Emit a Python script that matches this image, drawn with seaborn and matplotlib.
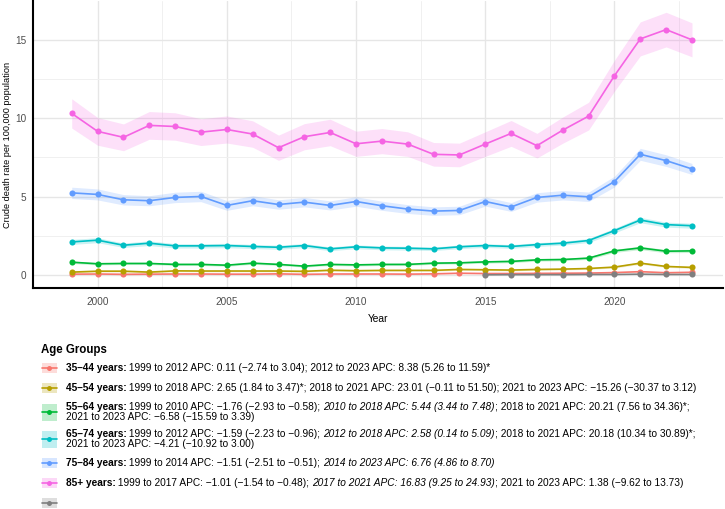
import numpy as np
import pandas as pd
import matplotlib
matplotlib.use("Agg")
import matplotlib.pyplot as plt
import seaborn as sns
from matplotlib.patches import Rectangle
from matplotlib.lines import Line2D

# ---------------- data ----------------
years = list(range(1999, 2024))
groups = ["35–44 years", "45–54 years", "55–64 years", "65–74 years",
          "75–84 years", "85+ years", "NA"]
colors = ["#F8766D", "#B79F00", "#00BA38", "#00BFC4", "#619CFF", "#F564E3", "#7F7F7F"]

rate_35_44 = [0.08, 0.09, 0.07, 0.08, 0.09, 0.09, 0.08, 0.08, 0.10, 0.07, 0.09, 0.09, 0.09,
              0.08, 0.10, 0.14, 0.12, 0.12, 0.13, 0.14, 0.15, 0.18, 0.24, 0.17, 0.20]
rate_45_54 = [0.21, 0.27, 0.27, 0.21, 0.29, 0.28, 0.28, 0.28, 0.28, 0.26, 0.33, 0.30, 0.32,
              0.32, 0.32, 0.38, 0.36, 0.34, 0.38, 0.40, 0.44, 0.53, 0.78, 0.57, 0.51]
rate_55_64 = [0.84, 0.74, 0.76, 0.76, 0.70, 0.70, 0.65, 0.78, 0.70, 0.59, 0.70, 0.67, 0.70,
              0.70, 0.78, 0.80, 0.86, 0.89, 0.99, 1.01, 1.10, 1.56, 1.75, 1.54, 1.56]
rate_65_74 = [2.13, 2.24, 1.92, 2.05, 1.88, 1.88, 1.90, 1.84, 1.79, 1.90, 1.69, 1.82, 1.75,
              1.73, 1.69, 1.82, 1.90, 1.84, 1.96, 2.05, 2.22, 2.85, 3.52, 3.23, 3.16]
rate_75_84 = [5.25, 5.15, 4.81, 4.75, 4.96, 5.02, 4.45, 4.75, 4.51, 4.66, 4.45, 4.70, 4.43,
              4.22, 4.09, 4.13, 4.70, 4.35, 4.96, 5.10, 5.00, 5.97, 7.70, 7.30, 6.77]
rate_85p = [10.30, 9.16, 8.78, 9.54, 9.47, 9.11, 9.28, 8.99, 8.12, 8.82, 9.09, 8.37, 8.54,
            8.35, 7.70, 7.66, 8.35, 9.03, 8.25, 9.24, 10.13, 12.70, 15.04, 15.63, 14.98]
years_na = list(range(2015, 2024))
rate_na = [0.04, 0.05, 0.05, 0.05, 0.06, 0.06, 0.08, 0.06, 0.06]

# half-width of 95% CI bands
ci_35_44 = [0.03] * 25
ci_45_54 = [0.05, 0.05, 0.05, 0.05, 0.05, 0.05, 0.05, 0.05, 0.05, 0.05, 0.05, 0.05, 0.05,
            0.05, 0.05, 0.05, 0.05, 0.05, 0.05, 0.05, 0.05, 0.06, 0.07, 0.06, 0.06]
ci_55_64 = [0.08, 0.07, 0.07, 0.07, 0.07, 0.07, 0.07, 0.07, 0.07, 0.06, 0.07, 0.07, 0.07,
            0.07, 0.07, 0.07, 0.08, 0.08, 0.08, 0.08, 0.08, 0.10, 0.11, 0.10, 0.10]
ci_65_74 = [0.16, 0.16, 0.14, 0.15, 0.14, 0.14, 0.14, 0.13, 0.13, 0.13, 0.12, 0.12, 0.12,
            0.12, 0.11, 0.12, 0.12, 0.12, 0.12, 0.12, 0.13, 0.15, 0.17, 0.16, 0.16]
ci_75_84 = [0.36, 0.35, 0.33, 0.32, 0.33, 0.33, 0.31, 0.32, 0.30, 0.30, 0.29, 0.30, 0.29,
            0.28, 0.27, 0.27, 0.29, 0.28, 0.30, 0.30, 0.30, 0.34, 0.38, 0.37, 0.35]
ci_85p = [0.93, 0.88, 0.85, 0.88, 0.87, 0.85, 0.86, 0.84, 0.80, 0.83, 0.84, 0.80, 0.80,
          0.78, 0.75, 0.75, 0.78, 0.82, 0.78, 0.83, 0.88, 0.98, 1.08, 1.10, 1.08]
ci_na = [0.01] * 9

x_ticks = [2000, 2005, 2010, 2015, 2020]
y_ticks = [0, 5, 10, 15]

rates = [rate_35_44, rate_45_54, rate_55_64, rate_65_74, rate_75_84, rate_85p, rate_na]
cis = [ci_35_44, ci_45_54, ci_55_64, ci_65_74, ci_75_84, ci_85p, ci_na]
yrs = [years] * 6 + [years_na]

rows = []
for g, yy, rr, cc in zip(groups, yrs, rates, cis):
    for y_, r_, c_ in zip(yy, rr, cc):
        rows.append({"Year": y_, "Rate": r_, "lo": r_ - c_, "hi": r_ + c_, "Group": g})
df = pd.DataFrame(rows)

# legend text segments: (text, weight, style)
legend_rows = [
    [[("35–44 years:", "bold", "normal"),
      (" 1999 to 2012 APC: 0.11 (−2.74 to 3.04); 2012 to 2023 APC: 8.38 (5.26 to 11.59)*", "normal", "normal")]],
    [[("45–54 years:", "bold", "normal"),
      (" 1999 to 2018 APC: 2.65 (1.84 to 3.47)*; 2018 to 2021 APC: 23.01 (−0.11 to 51.50); 2021 to 2023 APC: −15.26 (−30.37 to 3.12)", "normal", "normal")]],
    [[("55–64 years:", "bold", "normal"),
      (" 1999 to 2010 APC: −1.76 (−2.93 to −0.58); ", "normal", "normal"),
      ("2010 to 2018 APC: 5.44 (3.44 to 7.48)", "normal", "italic"),
      ("; 2018 to 2021 APC: 20.21 (7.56 to 34.36)*;", "normal", "normal")],
     [("2021 to 2023 APC: −6.58 (−15.59 to 3.39)", "normal", "normal")]],
    [[("65–74 years:", "bold", "normal"),
      (" 1999 to 2012 APC: −1.59 (−2.23 to −0.96); ", "normal", "normal"),
      ("2012 to 2018 APC: 2.58 (0.14 to 5.09)", "normal", "italic"),
      ("; 2018 to 2021 APC: 20.18 (10.34 to 30.89)*;", "normal", "normal")],
     [("2021 to 2023 APC: −4.21 (−10.92 to 3.00)", "normal", "normal")]],
    [[("75–84 years:", "bold", "normal"),
      (" 1999 to 2014 APC: −1.51 (−2.51 to −0.51); ", "normal", "normal"),
      ("2014 to 2023 APC: 6.76 (4.86 to 8.70)", "normal", "italic")]],
    [[("85+ years:", "bold", "normal"),
      (" 1999 to 2017 APC: −1.01 (−1.54 to −0.48); ", "normal", "normal"),
      ("2017 to 2021 APC: 16.83 (9.25 to 24.93)", "normal", "italic"),
      ("; 2021 to 2023 APC: 1.38 (−9.62 to 13.73)", "normal", "normal")]],
    [],
]

# ---------------- plotting ----------------
sns.set_theme(style="white")
plt.rcParams["font.family"] = ["Liberation Sans", "DejaVu Sans"]

W, H = 725, 509
fig = plt.figure(figsize=(W / 100, H / 100), dpi=100)
ax_l, ax_r, ax_t, ax_b = 33, 723, 1, 288
ax = fig.add_axes([ax_l / W, 1 - ax_b / H, (ax_r - ax_l) / W, (ax_b - ax_t) / H])

for g, c in zip(groups, colors):
    sub = df[df["Group"] == g]
    ax.fill_between(sub["Year"], sub["lo"], sub["hi"], color=c, alpha=0.2, lw=0, zorder=1)

sns.lineplot(data=df, x="Year", y="Rate", hue="Group", hue_order=groups, palette=colors,
             marker="o", markersize=4.4, markeredgewidth=0, linewidth=1.2,
             legend=False, errorbar=None, ax=ax, zorder=3)

ax.set_xlim(1997.8, 2024.2)
ax.set_ylim(-0.8, 17.45)
ax.set_xticks(x_ticks)
ax.set_yticks(y_ticks)
ax.set_xticks([1997.5, 2002.5, 2007.5, 2012.5, 2017.5, 2022.5], minor=True)
ax.set_yticks([2.5, 7.5, 12.5], minor=True)
ax.grid(which="major", color="#E6E6E6", linewidth=1.0, zorder=0)
ax.grid(which="minor", color="#F0F0F0", linewidth=0.7, zorder=0)
ax.set_axisbelow(True)
for s in ["top", "right"]:
    ax.spines[s].set_visible(False)
for s in ["left", "bottom"]:
    ax.spines[s].set_color("black")
    ax.spines[s].set_linewidth(1.5)
ax.tick_params(axis="both", which="both", length=0, labelsize=7.2, colors="#4D4D4D")
ax.tick_params(axis="x", pad=6.3)
ax.tick_params(axis="y", pad=4.8)
ax.set_xlabel("Year", fontsize=7.4, color="black", labelpad=5)
ax.set_ylabel("Crude death rate per 100,000 population", fontsize=6.6, color="black")
ax.yaxis.set_label_coords(-(ax_l - 12.5) / (ax_r - ax_l), 0.5)

# ---------------- legend (drawn manually) ----------------
fs = 7.3
fig.text(41 / W, 1 - 349.5 / H, "Age Groups", fontsize=8.3, fontweight="bold",
         ha="left", va="center", color="black")

line_y = [[368.3], [388.3], [407.6], [417.2]], None
line_y = [[368.3], [388.3], [407.4, 417.0], [434.4, 444.0], [462.7], [483.3], [503.3]]
key_x0, key_w = 41.7, 15.0
text_x = 65.7

for g_i, (c, lines_y, segs) in enumerate(zip(colors, line_y, legend_rows)):
    yc = np.mean(lines_y)
    kh = 10.0 if len(lines_y) == 1 else 17.0
    fig.add_artist(Rectangle((key_x0 / W, 1 - (yc + kh / 2) / H), key_w / W, kh / H,
                             transform=fig.transFigure, facecolor=c, alpha=0.25, lw=0))
    fig.add_artist(Line2D([key_x0 / W, (key_x0 + key_w) / W], [1 - yc / H, 1 - yc / H],
                          transform=fig.transFigure, color=c, lw=1.2))
    fig.add_artist(Line2D([(key_x0 + key_w / 2) / W], [1 - yc / H], transform=fig.transFigure,
                          color=c, marker="o", markersize=3.6, markeredgewidth=0, lw=0))
    for ly, line_segs in zip(lines_y, segs):
        prev = None
        for txt, wt, st in line_segs:
            if prev is None:
                prev = fig.text(text_x / W, 1 - ly / H, txt, fontsize=fs, fontweight=wt,
                                fontstyle=st, ha="left", va="center", color="black",
                                linespacing=1.0)
            else:
                prev = ax.annotate(txt, xy=(1, 0), xycoords=prev, va="bottom", ha="left",
                                   fontsize=fs, fontweight=wt, fontstyle=st, color="black",
                                   annotation_clip=False)

fig.savefig("out.png", dpi=100, facecolor="white")
